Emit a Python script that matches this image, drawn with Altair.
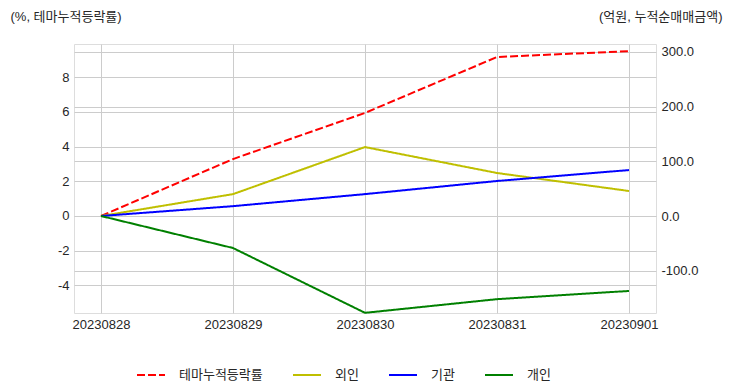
import altair as alt
import pandas as pd

dates = ["20230828", "20230829", "20230830", "20230831", "20230901"]
theme_rate = [0.0, 3.28, 5.94, 9.16, 9.50]
foreign = [0.0, 40.0, 126.0, 78.6, 45.7]
institution = [0.0, 18.0, 40.0, 64.0, 84.0]
individual = [0.0, -58.5, -177.0, -152.0, -137.0]

series_names = ["테마누적등락률", "외인", "기관", "개인"]
series_colors = ["#ff0000", "#bfbf00", "#0000ff", "#008000"]
series_dash = [[8, 3], [1, 0], [1, 0], [1, 0]]

left_ticks = [-4, -2, 0, 2, 4, 6, 8]
right_ticks = [-100, 0, 100, 200, 300]

FONT = "Liberation Sans, Noto Sans CJK KR, sans-serif"

left_df = pd.DataFrame({"date": dates, "value": theme_rate, "series": series_names[0]})
right_rows = []
for name, vals in zip(series_names[1:], [foreign, institution, individual]):
    for d, v in zip(dates, vals):
        right_rows.append({"date": d, "value": v, "series": name})
right_df = pd.DataFrame(right_rows)

x_enc = alt.X("date:O", sort=dates, scale=alt.Scale(type="point", padding=0.2045),
              axis=alt.Axis(title=None, labelAngle=0, ticks=False, domain=False, grid=True,
                            gridColor="#cccccc", labelPadding=5, labelColor="#262626",
                            labelFontSize=13, labelFont=FONT))

color_enc = alt.Color("series:N", scale=alt.Scale(domain=series_names, range=series_colors),
                      legend=alt.Legend(title=None, orient="none", legendX=62, legendY=316,
                                        direction="horizontal", columns=4, symbolType="stroke",
                                        symbolSize=784, symbolStrokeWidth=2, labelFontSize=13,
                                        labelFont=FONT, labelColor="#262626", labelOffset=13,
                                        columnPadding=26))
dash_enc = alt.StrokeDash("series:N", scale=alt.Scale(domain=series_names, range=series_dash),
                          legend=alt.Legend(title=None))

left = alt.Chart(left_df).mark_line(strokeWidth=2).encode(
    x=x_enc,
    y=alt.Y("value:Q", scale=alt.Scale(domain=[-5.59, 9.91], nice=False, zero=False),
            axis=alt.Axis(title="(%, 테마누적등락률)", titleAngle=0, titleAlign="left",
                          titleBaseline="middle", titleX=-64, titleY=-28, titleFontSize=13,
                          titleFontWeight="normal", titleFont=FONT, titleColor="#262626",
                          values=left_ticks, ticks=False, domain=False, grid=True,
                          gridColor="#cccccc", labelPadding=5, labelColor="#262626",
                          labelFontSize=13, labelFont=FONT,
                          labelExpr="datum.value < 0 ? '-' + format(-datum.value, 'd') : format(datum.value, 'd')")),
    color=color_enc,
    strokeDash=dash_enc,
)

right = alt.Chart(right_df).mark_line(strokeWidth=2).encode(
    x=x_enc,
    y=alt.Y("value:Q", scale=alt.Scale(domain=[-177.3, 314.4], nice=False, zero=False),
            axis=alt.Axis(orient="right", title="(억원, 누적순매매금액)", titleAngle=0,
                          titleAlign="right", titleBaseline="middle", titleX=66, titleY=-28,
                          titleFontSize=13, titleFontWeight="normal", titleFont=FONT,
                          titleColor="#262626", values=right_ticks, ticks=False, domain=False,
                          grid=True, gridColor="#cccccc", labelPadding=5, labelColor="#262626",
                          labelFontSize=13, labelFont=FONT,
                          labelExpr="datum.value < 0 ? '-' + format(-datum.value, '.1f') : format(datum.value, '.1f')")),
    color=color_enc,
    strokeDash=dash_enc,
    detail="series:N",
)

chart = alt.layer(left, right).resolve_scale(y="independent").properties(
    width=582, height=269,
    autosize=alt.AutoSizeParams(type="none"),
    padding={"left": 66, "top": 36, "right": 68, "bottom": 70},
).configure_view(stroke="#cccccc", strokeWidth=1.25).configure(background="white")

chart.save("out.html", embed_options={"renderer": "svg", "actions": False})
